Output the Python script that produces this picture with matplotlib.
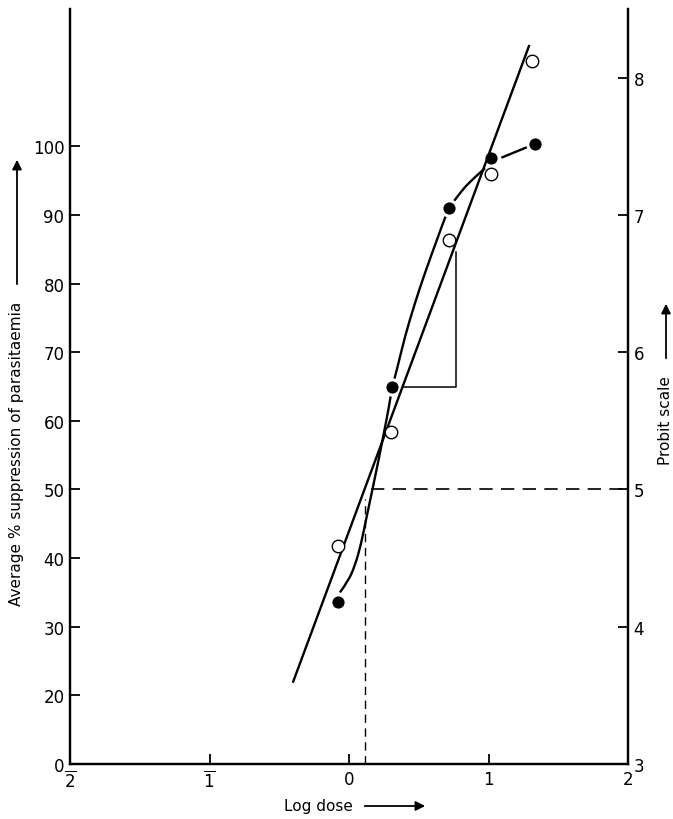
import matplotlib.pyplot as plt
from matplotlib.path import Path
from matplotlib.patches import PathPatch

# Probit values (open circles, right axis)
log_dose_open = [-0.08, 0.30, 0.72, 1.02, 1.31]
probit_open = [4.59, 5.42, 6.82, 7.30, 8.12]

# Average % suppression (filled circles, left axis)
log_dose_filled = [-0.08, 0.31, 0.72, 1.02, 1.33]
pct_filled = [33.6, 65.0, 91.0, 98.3, 100.3]

# hand-drawn curve through the % suppression points
curve_x = [-0.065, -0.007, 0.043, 0.086, 0.122, 0.165, 0.208, 0.251, 0.287,
           0.308, 0.344, 0.401, 0.473, 0.545, 0.638, 0.688, 0.724,
           0.774, 0.832, 0.903, 0.975]
curve_y = [35.0, 36.6, 38.9, 42.0, 45.6, 49.7, 53.9, 58.3, 62.1,
           64.8, 67.5, 72.3, 77.2, 81.6, 86.8, 89.6, 91.2,
           92.6, 94.1, 95.5, 96.8]
tail_x = [1.10, 1.28]
tail_y = [98.4, 99.9]

# fitted probit line
probit_line_x = [-0.40, 1.29]
probit_line_y = [3.60, 8.23]

# ED50 read-off and slope triangle
ed50 = 0.115
tri_x = [0.385, 0.767, 0.767]
tri_y = [5.75, 5.75, 6.73]

x_ticks = [-2, -1, 0, 1, 2]
x_labels = [r'$\overline{2}$', r'$\overline{1}$', '0', '1', '2']
left_ticks = [10, 20, 30, 40, 50, 60, 70, 80, 90, 100]
left_labels = ['0', '20', '30', '40', '50', '60', '70', '80', '90', '100']
right_ticks = [3, 4, 5, 6, 7, 8]


def smooth_path(xs, ys):
    # quadratic bezier pieces through the midpoints, so the drawn curve is smooth
    pts = list(zip(xs, ys))
    verts = [pts[0]]
    codes = [Path.MOVETO]
    for i in range(1, len(pts) - 1):
        mid = ((pts[i][0] + pts[i + 1][0]) / 2, (pts[i][1] + pts[i + 1][1]) / 2)
        verts += [pts[i], mid]
        codes += [Path.CURVE3, Path.CURVE3]
    verts.append(pts[-1])
    codes.append(Path.LINETO)
    return Path(verts, codes)


fig = plt.figure(figsize=(6.73, 8.2), dpi=100)
ax = fig.add_axes([70 / 673, 55 / 820, 558 / 673, 755 / 820])
ax2 = ax.twinx()

ax.set_xlim(-2, 2)
ax.set_ylim(10, 120)
ax2.set_ylim(3, 8.5)

for a in (ax, ax2):
    a.spines['top'].set_visible(False)
    for s in ('left', 'right', 'bottom'):
        a.spines[s].set_linewidth(1.6)

ax.set_xticks(x_ticks)
ax.set_xticklabels(x_labels, fontsize=12)
ax.set_yticks(left_ticks)
ax.set_yticklabels(left_labels, fontsize=12)
ax2.set_yticks(right_ticks)
ax2.set_yticklabels([str(t) for t in right_ticks], fontsize=12)
ax.tick_params(direction='in', length=7, width=1.3, pad=4)
ax2.tick_params(direction='in', length=7, width=1.3, pad=4)

# curve and points on the % axis
ax.add_patch(PathPatch(smooth_path(curve_x, curve_y), fill=False,
                       edgecolor='black', lw=1.7, zorder=2))
ax.plot(tail_x, tail_y, color='black', lw=1.7, zorder=2)
ax.plot(log_dose_filled, pct_filled, 'o', color='black', ms=11,
        mec='white', mew=2.2, zorder=5)

# probit side
ax2.plot(probit_line_x, probit_line_y, color='black', lw=1.7, zorder=2)
ax2.plot(log_dose_open, probit_open, 'o', mfc='white', mec='black',
         ms=9, mew=1.0, zorder=5)
ax2.plot(tri_x, tri_y, color='black', lw=1.1, zorder=2)
ax2.plot([ed50, ed50], [3, 4.93], color='black', lw=1.0,
         linestyle=(0, (6, 4)), zorder=1)
ax2.plot([ed50 + 0.04, 2], [5, 5], color='black', lw=1.2,
         linestyle=(0, (8, 5)), zorder=1)

# axis titles with arrows
arrow = dict(arrowstyle='-|>', color='black', lw=1.3, mutation_scale=14)
fig.text(17 / 673, 1 - 454 / 820, 'Average % suppression of parasitaemia',
         rotation=90, ha='center', va='center', fontsize=11)
ax.annotate('', xy=(17 / 673, 1 - 158 / 820), xytext=(17 / 673, 1 - 288 / 820),
            xycoords='figure fraction', textcoords='figure fraction',
            arrowprops=arrow)
fig.text(666 / 673, 1 - 421 / 820, 'Probit scale', rotation=90,
         ha='center', va='center', fontsize=11)
ax.annotate('', xy=(666 / 673, 1 - 302 / 820), xytext=(666 / 673, 1 - 362 / 820),
            xycoords='figure fraction', textcoords='figure fraction',
            arrowprops=arrow)
fig.text(318 / 673, 1 - 807 / 820, 'Log dose', ha='center', va='center',
         fontsize=11)
ax.annotate('', xy=(428 / 673, 1 - 807 / 820), xytext=(362 / 673, 1 - 807 / 820),
            xycoords='figure fraction', textcoords='figure fraction',
            arrowprops=arrow)

fig.savefig('out.png', dpi=100)
